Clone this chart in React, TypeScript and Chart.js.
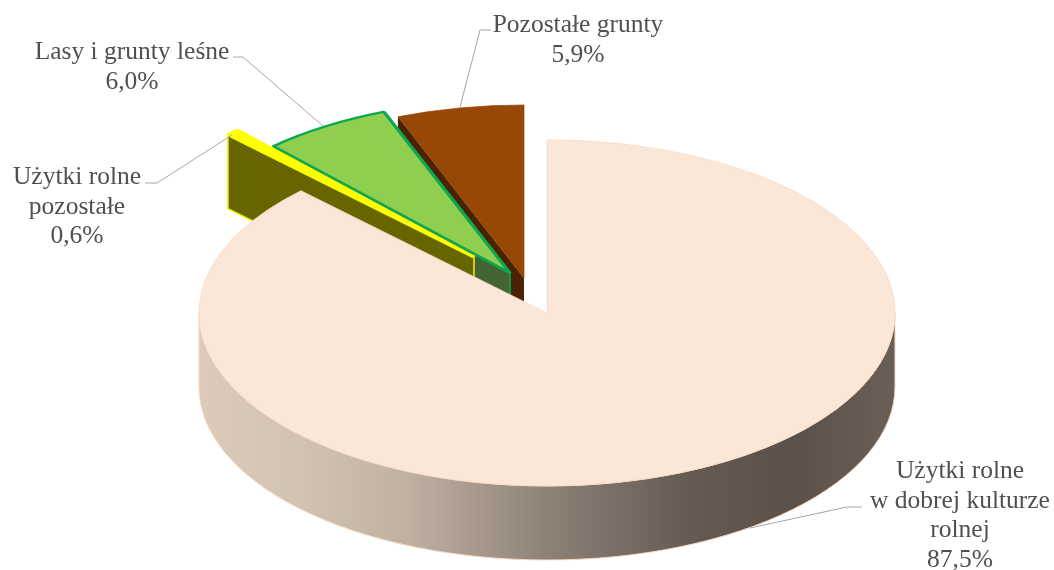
import React, { useEffect, useRef } from "react";
import { Chart, registerables } from "chart.js";

Chart.register(...registerables);

// Land-use shares, clockwise from twelve o'clock.
const categories = ["Użytki rolne w dobrej kulturze rolnej", "Użytki rolne pozostałe", "Lasy i grunty leśne", "Pozostałe grunty"];
const labelLines = [["Użytki rolne", "w dobrej kulturze", "rolnej"], ["Użytki rolne", "pozostałe"], ["Lasy i grunty leśne"], ["Pozostałe grunty"]];
const shares = [87.5, 0.6, 6.0, 5.9];

const faceColors = ["#fbe7d8", "#ffff00", "#8fce4e", "#974706"];
const edgeColors = ["#f6d9c2", "#ffff00", "#0aa850", "#974706"];
const wallColors = ["#000000", "#666600", "#446432", "#4a2303"];
const wallEdges = [null, "#f2f200", "#0aa850", null];

// Exploded slices: screen-space displacement from the pie centre.
const sliceShiftX = [0, -73, -37, -23];
const sliceShiftY = [0, -56, -40, -35];
const paintOrder = [3, 2, 1, 0];

const WIDTH = 1054;
const HEIGHT = 570;
const CENTER_X = 547;
const CENTER_Y = 313;
const RADIUS = 348;
const SQUASH = 173 / 348;
const DEPTH = 74;

// Label anchor (centre x, first baseline) and leader polyline per slice.
const labelX = [960, 77, 132, 578];
const labelY = [478, 184, 59, 32];
const lineGap = 29.5;
const leaders = [
  [[862, 507], [847, 507], [750, 528]],
  [[145, 183], [157, 183], [232, 135]],
  [[233, 57], [243, 57], [323, 126]],
  [[491, 30], [480, 30], [460, 107]],
];

const screenY = (y: number) => CENTER_Y + (y - CENTER_Y) * SQUASH;

function paintWall(ctx: CanvasRenderingContext2D, arc: any, i: number) {
  const sx = arc.x;
  const sy = screenY(arc.y);
  const r = arc.outerRadius;
  const ry = r * SQUASH;
  ctx.save();
  if (i === 0) {
    // Rim of the big slice: only the front half of the ellipse can be seen.
    const g = ctx.createLinearGradient(sx - r, 0, sx + r, 0);
    g.addColorStop(0, "#dccbbb");
    g.addColorStop(0.15, "#d2c2b2");
    g.addColorStop(0.3, "#bfb0a2");
    g.addColorStop(0.5, "#8e8277");
    g.addColorStop(0.7, "#665b52");
    g.addColorStop(0.85, "#5c5148");
    g.addColorStop(1, "#6a6057");
    ctx.beginPath();
    ctx.ellipse(sx, sy, r, ry, 0, 0, Math.PI);
    ctx.ellipse(sx, sy + DEPTH, r, ry, 0, Math.PI, 0, true);
    ctx.closePath();
    ctx.fillStyle = g;
    ctx.fill();
    ctx.strokeStyle = "#f6d9c2";
    ctx.lineWidth = 1;
    ctx.stroke();
  } else {
    // Cut face along the slice's leading radius, dropped straight down.
    const ox = sx + r * Math.cos(arc.startAngle);
    const oy = sy + ry * Math.sin(arc.startAngle);
    ctx.beginPath();
    ctx.moveTo(ox, oy);
    ctx.lineTo(sx, sy);
    ctx.lineTo(sx, sy + DEPTH);
    ctx.lineTo(ox, oy + DEPTH);
    ctx.closePath();
    ctx.fillStyle = wallColors[i];
    ctx.fill();
    const edge = wallEdges[i];
    if (edge) {
      ctx.strokeStyle = edge;
      ctx.lineWidth = 1.5;
      ctx.stroke();
    }
  }
  ctx.restore();
}

const tiltedPie = {
  id: "tiltedPie",
  afterDatasetUpdate(chart: any, args: any) {
    args.meta.data.forEach((arc: any, i: number) => {
      arc.x += sliceShiftX[i];
      arc.y += sliceShiftY[i] / SQUASH;
    });
  },
  beforeDatasetDraw(chart: any, args: any) {
    const ctx: CanvasRenderingContext2D = chart.ctx;
    const arcs = args.meta.data;
    paintOrder.forEach((i) => {
      paintWall(ctx, arcs[i], i);
      ctx.save();
      ctx.translate(0, CENTER_Y);
      ctx.scale(1, SQUASH);
      ctx.translate(0, -CENTER_Y);
      arcs[i].draw(ctx, chart.chartArea);
      ctx.restore();
    });
    return false;
  },
  afterDraw(chart: any) {
    const ctx: CanvasRenderingContext2D = chart.ctx;
    ctx.save();
    ctx.strokeStyle = "#a6a6a6";
    ctx.lineWidth = 1;
    leaders.forEach((pts) => {
      ctx.beginPath();
      pts.forEach(([x, y], k) => (k ? ctx.lineTo(x, y) : ctx.moveTo(x, y)));
      ctx.stroke();
    });
    ctx.fillStyle = "#505050";
    ctx.font = '25.5px "Liberation Serif"';
    ctx.textAlign = "center";
    ctx.textBaseline = "alphabetic";
    shares.forEach((v, i) => {
      const lines = [...labelLines[i], v.toFixed(1).replace(".", ",") + "%"];
      lines.forEach((t, k) => ctx.fillText(t, labelX[i], labelY[i] + k * lineGap));
    });
    ctx.restore();
  },
};

export default function App() {
  const ref = useRef<HTMLCanvasElement>(null);
  useEffect(() => {
    const chart = new Chart(ref.current!, {
      type: "pie",
      data: {
        labels: categories,
        datasets: [
          {
            data: shares,
            backgroundColor: faceColors,
            borderColor: edgeColors,
            borderWidth: [1, 5, 4, 1],
            borderJoinStyle: "bevel",
            clip: false,
          } as any,
        ],
      },
      options: {
        animation: false,
        responsive: false,
        radius: RADIUS,
        events: [],
        layout: { padding: { left: 2 * CENTER_X - WIDTH, top: 2 * CENTER_Y - HEIGHT } },
        plugins: { legend: { display: false }, tooltip: { enabled: false } },
      } as any,
      plugins: [tiltedPie as any],
    });
    return () => chart.destroy();
  }, []);
  return (
    <div style={{ position: "absolute", left: 0, top: 0, width: WIDTH, height: HEIGHT, background: "#fff" }}>
      <canvas ref={ref} width={WIDTH} height={HEIGHT} style={{ display: "block" }} />
    </div>
  );
}
